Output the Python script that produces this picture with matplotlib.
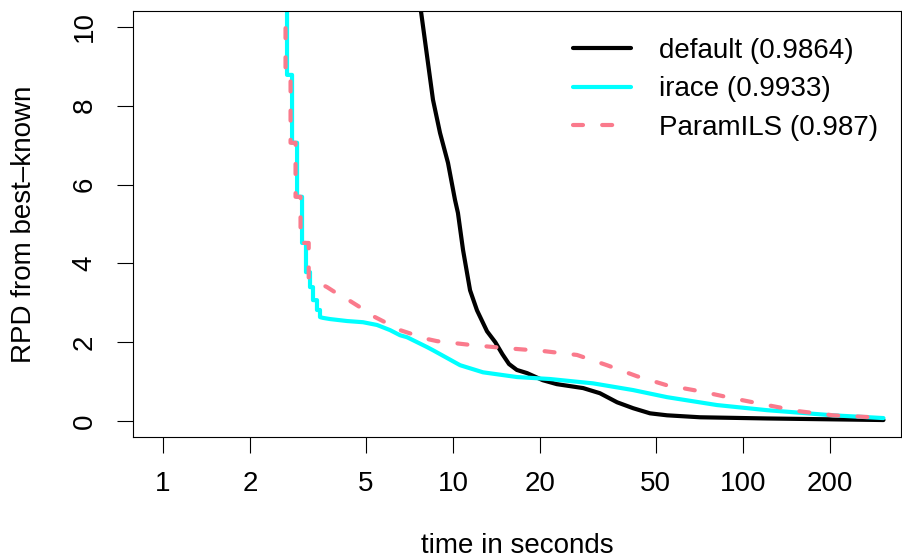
import numpy as np
import matplotlib
matplotlib.use("Agg")
import matplotlib.pyplot as plt

plt.rcParams['font.family'] = ['Liberation Sans', 'DejaVu Sans']

# ---------------- data ----------------
x_ticks = [1, 2, 5, 10, 20, 50, 100, 200]
x_tick_labels = ["1", "2", "5", "10", "20", "50", "100", "200"]
y_ticks = [0, 2, 4, 6, 8, 10]

labels = ["default (0.9864)", "irace (0.9933)", "ParamILS (0.987)"]

# default (black)
default_t = [7.70, 8.53, 9.02, 9.61, 10.16, 10.4, 10.83, 11.45, 12.1, 13.1, 14.0, 14.8, 15.6,
             16.6, 18.0, 20.4, 22.8, 28.1, 32.1, 36.8, 41.8, 47.8, 54.7, 71.1, 121, 305]
default_y = [10.56, 8.15, 7.31, 6.55, 5.61, 5.28, 4.34, 3.32, 2.81, 2.28, 2.00, 1.70, 1.45,
             1.30, 1.22, 1.04, 0.94, 0.84, 0.71, 0.48, 0.33, 0.20, 0.15, 0.10, 0.07, 0.03]

# irace (cyan): early step part, then smooth part
irace_start_y = 12.0
irace_step_t = [2.677, 2.786, 2.899, 3.016, 3.112, 3.213, 3.290, 3.396, 3.478]
irace_step_y = [8.78, 7.06, 5.69, 4.52, 3.78, 3.40, 3.07, 2.82, 2.64]
irace_t = [3.562, 3.766, 4.311, 4.894, 5.470, 6.066, 6.566, 6.940, 8.135, 8.53, 10.58,
           12.69, 16.62, 21.60, 30.40, 41.77, 54.71, 81.3, 121.0, 204, 305]
irace_y = [2.62, 2.59, 2.54, 2.51, 2.44, 2.31, 2.18, 2.13, 1.88, 1.80, 1.42,
           1.24, 1.12, 1.07, 0.96, 0.79, 0.61, 0.41, 0.28, 0.15, 0.08]

# ParamILS (pink dashed)
pils_start_y = 12.0
pils_step_t = [2.645, 2.753, 2.864, 2.980, 3.180]
pils_step_y = [8.78, 7.06, 5.69, 4.52, 3.63]
pils_t = [3.678, 3.919, 4.413, 4.779, 5.383, 5.830, 6.566, 7.222, 8.2, 8.81, 11.63,
          15.36, 20.43, 26.77, 33.96, 43.1, 54.7, 71.1, 92.4, 121, 157.3, 204.3, 280.7, 305]
pils_y = [3.40, 3.27, 3.05, 2.89, 2.64, 2.51, 2.31, 2.21, 2.08, 2.03, 1.93,
          1.85, 1.78, 1.68, 1.42, 1.14, 0.91, 0.76, 0.58, 0.41, 0.25, 0.15, 0.10, 0.08]


def step_then_smooth(start_y, st, sy, t, y):
    xs, ys = [], []
    prev = start_y
    for ti, yi in zip(st, sy):
        xs += [ti, ti]
        ys += [prev, yi]
        prev = yi
    xs += list(t)
    ys += list(y)
    return np.array(xs), np.array(ys)


irace_x_all, irace_y_all = step_then_smooth(irace_start_y, irace_step_t, irace_step_y, irace_t, irace_y)
pils_x_all, pils_y_all = step_then_smooth(pils_start_y, pils_step_t, pils_step_y, pils_t, pils_y)

# ---------------- plot ----------------
fig = plt.figure(figsize=(9.02, 5.60), dpi=100)
ax = fig.add_axes([133 / 902, 1 - 437 / 560, (901 - 133) / 902, (437 - 11) / 560])

lw = 3.0
ax.plot(default_t, default_y, color="black", lw=lw, solid_joinstyle="round",
        solid_capstyle="round", label=labels[0])
ax.plot(irace_x_all, irace_y_all, color="#00FFFF", lw=lw, solid_joinstyle="round",
        solid_capstyle="round", label=labels[1])
ax.plot(pils_x_all, pils_y_all, color="#FA7A8C", lw=lw, linestyle=(0, (2.4, 4.6)),
        dash_capstyle="round", dash_joinstyle="round", label=labels[2])

ax.set_xscale("log")
ax.set_xlim(0.788, 350.6)
ax.set_ylim(-0.4, 10.4)

ax.set_xticks(x_ticks)
ax.set_xticklabels(x_tick_labels)
ax.xaxis.set_minor_locator(matplotlib.ticker.NullLocator())
ax.set_yticks(y_ticks)
ax.set_yticklabels([str(v) for v in y_ticks])

fs = 20
ax.tick_params(axis="both", direction="out", length=11.5, width=0.8,
               labelsize=fs, color="black")
ax.tick_params(axis="x", pad=13)
ax.tick_params(axis="y", pad=14)
for lab in ax.get_yticklabels():
    lab.set_rotation(90)
    lab.set_va("center")
    lab.set_ha("right")

for sp in ax.spines.values():
    sp.set_linewidth(0.8)
    sp.set_color("black")

ax.set_xlabel("time in seconds", fontsize=fs, labelpad=26)
ax.set_ylabel("RPD from best–known", fontsize=fs, labelpad=25)

leg = ax.legend(loc="upper left", bbox_to_anchor=(0.573, 0.937), frameon=False,
                fontsize=fs, handlelength=2.1, handletextpad=1.0,
                labelspacing=0.45, borderpad=0, borderaxespad=0)

fig.savefig("out.png", dpi=100)
